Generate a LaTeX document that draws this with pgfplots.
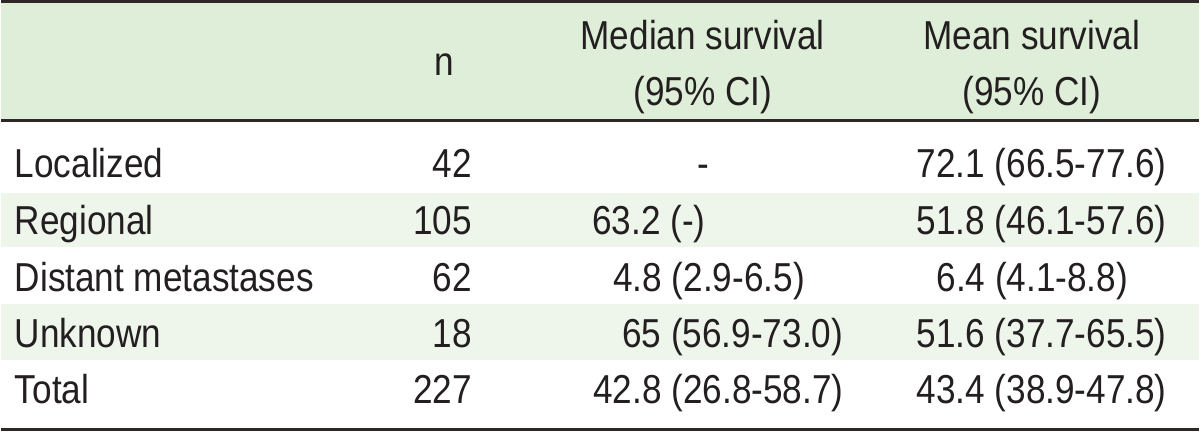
\documentclass[border=0pt]{standalone}
\usepackage{fontspec}
\setmainfont{Liberation Sans}[FakeStretch=0.87]
\usepackage{pgfplots}
\usepackage{pgfplotstable}
\pgfplotsset{compat=1.18}
\definecolor{hdr}{HTML}{DFEED8}
\definecolor{band}{HTML}{EEF6EC}
\definecolor{rulec}{HTML}{2D2826}
\definecolor{txt}{HTML}{231F20}
\newcommand{\tf}{\fontsize{20.25}{24}\selectfont}

\pgfplotstableread[col sep=comma]{
x,y,label
13,178,Localized
13,235,Regional
13,292,Distant metastases
13,348,Unknown
13,405,Total
}\tabRows
\pgfplotstableread[col sep=comma]{
x,y,label
472,178,42
472,235,105
472,292,62
472,348,18
472,405,227
}\tabN
\pgfplotstableread[col sep=comma]{
x,y,label
697,178,-
592,235,63.2 (-)
613,292,4.8 (2.9-6.5)
622,348,65 (56.9-73.0)
593,405,42.8 (26.8-58.7)
}\tabMedian
\pgfplotstableread[col sep=comma]{
x,y,label
917,178,72.1 (66.5-77.6)
917,235,51.8 (46.1-57.6)
937,292,6.4 (4.1-8.8)
917,348,51.6 (37.7-65.5)
917,405,43.4 (38.9-47.8)
}\tabMean

\begin{document}
\begin{tikzpicture}
\begin{axis}[
  scale only axis, width=600pt, height=216.5pt,
  xmin=0, xmax=1200, ymin=0, ymax=433, y dir=reverse,
  hide axis, clip=false,
  txtnode/.style={
    only marks, mark=*, mark size=0pt,
    mark options={draw=none, fill=none},
    point meta=explicit symbolic,
    nodes near coords,
    every node near coord/.append style={font=\tf, text=txt, inner sep=0pt, anchor=#1},
  },
]
% backgrounds
\fill[white] (axis cs:0,0) rectangle (axis cs:1200,433);
\fill[hdr] (axis cs:0,3) rectangle (axis cs:1200,120);
\fill[band] (axis cs:0,193) rectangle (axis cs:1200,248);
\fill[band] (axis cs:0,305) rectangle (axis cs:1200,361);
% rules
\draw[rulec, line width=1.5pt] (axis cs:0,1.5) -- (axis cs:1200,1.5);
\draw[rulec, line width=1.25pt] (axis cs:0,121) -- (axis cs:1200,121);
\draw[rulec, line width=1.5pt] (axis cs:0,431) -- (axis cs:1200,431);
% header
\node[font=\tf, text=txt, inner sep=0pt, anchor=base] at (axis cs:444,76) {n};
\node[font=\tf, text=txt, inner sep=0pt, anchor=base] at (axis cs:703,50) {Median survival};
\node[font=\tf, text=txt, inner sep=0pt, anchor=base] at (axis cs:703,106) {(95\% CI)};
\node[font=\tf, text=txt, inner sep=0pt, anchor=base] at (axis cs:1033,50) {Mean survival};
\node[font=\tf, text=txt, inner sep=0pt, anchor=base] at (axis cs:1033,106) {(95\% CI)};
% body
\addplot[txtnode=base west] table[x=x, y=y, meta=label] {\tabRows};
\addplot[txtnode=base east] table[x=x, y=y, meta=label] {\tabN};
\addplot[txtnode=base west] table[x=x, y=y, meta=label] {\tabMedian};
\addplot[txtnode=base west] table[x=x, y=y, meta=label] {\tabMean};
\end{axis}
\end{tikzpicture}
\end{document}
